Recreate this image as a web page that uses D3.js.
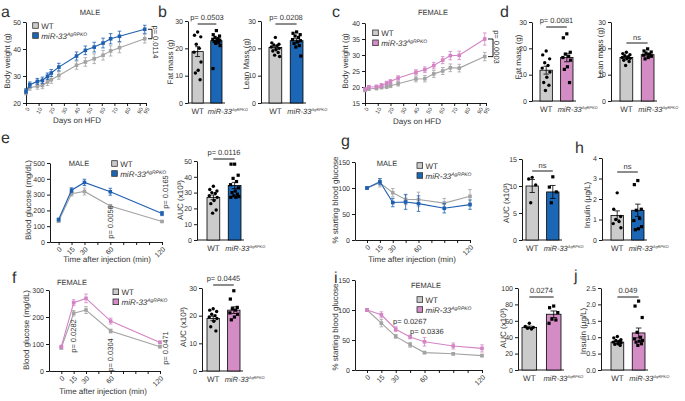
<!DOCTYPE html>
<html>
<head>
<meta charset="utf-8">
<script src="https://cdn.jsdelivr.net/npm/d3@7"></script>
<style>
  body { margin: 0; background: #fff; }
  svg { display: block; text-rendering: geometricPrecision; }
  text { font-family: 'Liberation Sans', Arial, Helvetica, sans-serif; fill: #333; }
</style>
</head>
<body>
<div id="content"></div>
<script>
// ---------- data ----------
var hfdDays = [0, 3, 9, 13, 17, 20, 26, 40, 47, 54, 61, 67, 74, 94];
var dayTicks = [0, 10, 20, 30, 40, 50, 60, 70, 80, 90, 95];
var maleWeightWT = [23.8, 25.7, 26.2, 26.5, 27.8, 28.6, 30.2, 34.0, 35.2, 36.4, 37.7, 39.3, 40.5, 43.8];
var maleWeightWTsem = [0.8, 1.0, 1.1, 1.2, 1.3, 1.3, 1.4, 1.5, 1.6, 1.8, 1.8, 1.9, 1.9, 1.6];
var maleWeightKO = [24.4, 26.8, 28.0, 28.4, 29.9, 31.1, 33.3, 37.4, 39.5, 40.7, 42.2, 43.8, 44.7, 47.3];
var maleWeightKOsem = [0.9, 1.0, 1.1, 1.2, 1.2, 1.3, 1.4, 1.5, 1.6, 1.8, 1.8, 1.9, 1.9, 1.5];
var femaleWeightWT = [19.0, 19.4, 19.6, 19.9, 20.1, 20.4, 21.0, 22.5, 22.6, 24.1, 25.0, 26.0, 25.9, 29.5];
var femaleWeightWTsem = [0.5, 0.5, 0.5, 0.5, 0.6, 0.6, 0.7, 0.9, 1.0, 1.1, 1.1, 1.2, 1.2, 1.3];
var femaleWeightKO = [19.3, 20.0, 20.1, 20.5, 21.2, 21.7, 22.8, 24.6, 25.4, 26.7, 28.4, 29.8, 29.9, 35.0];
var femaleWeightKOsem = [0.5, 0.5, 0.5, 0.6, 0.6, 0.6, 0.7, 0.8, 0.9, 1.0, 1.1, 1.3, 1.3, 1.9];

var gttTime = [0, 15, 30, 60, 120];
var timeTicks = [0, 15, 30, 45, 60, 75, 90, 105, 120];
var timeLabels = [0, 15, 30, 60, 120];
var maleGttWT = [132, 305, 320, 228, 130];
var maleGttWTsem = [8, 14, 22, 10, 6];
var maleGttKO = [142, 328, 377, 318, 180];
var maleGttKOsem = [8, 15, 20, 22, 13];
var femaleGttWT = [86, 214, 226, 148, 90];
var femaleGttWTsem = [5, 10, 13, 7, 4];
var femaleGttKO = [90, 253, 269, 185, 106];
var femaleGttKOsem = [5, 11, 16, 11, 5];

var ittTime = [0, 15, 30, 45, 60, 90, 120];
var maleIttWT = [100, 110, 91, 78, 78, 71, 84];
var maleIttWTsem = [2, 8, 8, 10, 14, 9, 13];
var maleIttKO = [100, 112, 72, 73, 70, 61, 68];
var maleIttKOsem = [2, 6, 8, 14, 15, 9, 9];
var femaleIttWT = [100, 78, 56, 42, 29, 27, 24];
var femaleIttWTsem = [2, 6, 3, 4, 2, 2, 2];
var femaleIttKO = [100, 92, 68, 55, 47, 40, 36];
var femaleIttKOsem = [2, 5, 4, 3, 7, 5, 6];

var maleFatWT = [26.0, 24.8, 24.2, 21.5, 20.0, 18.6, 15.0, 12.0, 11.0, 8.5];
var maleFatKO = [26.5, 25.0, 24.5, 24.0, 23.6, 23.3, 23.0, 22.8, 22.5, 22.2, 21.8, 21.0, 12.6];
var maleFatMean = [18.8, 22.8], maleFatSem = [1.8, 0.9];
var maleLeanWT = [24.0, 22.0, 21.5, 21.2, 21.0, 20.5, 20.0, 19.5, 19.0, 18.5, 17.5, 17.0];
var maleLeanKO = [26.0, 25.5, 25.0, 24.5, 24.0, 23.2, 22.8, 22.3, 21.8, 21.0, 20.5, 17.2];
var maleLeanMean = [20.3, 22.8], maleLeanSem = [0.6, 0.7];
var femaleFatWT = [19.0, 17.5, 16.0, 14.5, 13.5, 12.5, 11.0, 9.0, 7.0, 6.0, 4.0];
var femaleFatKO = [25.5, 24.0, 18.5, 17.8, 17.0, 16.5, 15.5, 13.0, 12.0, 7.0];
var femaleFatMean = [11.7, 16.5], femaleFatSem = [1.5, 1.6];
var femaleLeanWT = [18.5, 18.0, 17.6, 17.2, 16.8, 16.5, 16.2, 16.0, 15.5, 15.0, 13.5];
var femaleLeanKO = [19.8, 19.0, 18.6, 18.2, 17.8, 17.4, 17.0, 16.5, 16.0];
var femaleLeanMean = [16.5, 17.6], femaleLeanSem = [0.4, 0.4];
var maleGttAucWT = [34, 32, 31, 30, 29.5, 28, 27, 25, 23, 19, 17];
var maleGttAucKO = [48, 48, 41, 39, 37, 35, 33, 31, 30, 29, 28, 27.5, 27, 27];
var maleGttAucMean = [27, 34.5], maleGttAucSem = [1.5, 2.0];
var maleIttAucWT = [11.6, 11.3, 10.2, 6.9];
var maleIttAucKO = [11.7, 9.8, 8.9, 6.9];
var maleIttAucMean = [10.0, 8.9], maleIttAucSem = [1.2, 1.2];
var maleInsulinWT = [2.3, 1.5, 1.15, 1.0, 0.9, 0.8, 0.6];
var maleInsulinKO = [2.9, 2.7, 1.5, 1.45, 1.05, 0.95, 0.65, 0.55, 0.5];
var maleInsulinMean = [1.2, 1.45], maleInsulinSem = [0.22, 0.3];
var femaleGttAucWT = [22.5, 22, 21.5, 20.5, 20, 19.5, 19, 18, 16, 14.5];
var femaleGttAucKO = [29, 26, 23, 22.5, 22, 21, 20.5, 19.5, 18.5];
var femaleGttAucMean = [19.0, 22.0], femaleGttAucSem = [0.8, 1.2];
var femaleIttAucWT = [57, 53, 52, 51, 50];
var femaleIttAucKO = [78, 76, 70, 62, 61, 57];
var femaleIttAucMean = [52, 68], femaleIttAucSem = [1.5, 4];
var femaleInsulinWT = [1.02, 0.98, 0.92, 0.9, 0.88, 0.85, 0.83, 0.8, 0.78, 0.75];
var femaleInsulinKO = [2.1, 1.95, 1.6, 1.15, 1.0, 0.95, 0.9, 0.88, 0.85, 0.8, 0.75];
var femaleInsulinMean = [0.85, 1.13], femaleInsulinSem = [0.04, 0.15];

// ---------- style ----------
var GRAY = '#cbcbcb', GRAY_LINE = '#a3a3a3';
var BLUE = '#1c67b5', BLUE_LINE = '#1f5fb0';
var PINK = '#d48cc5', PINK_LINE = '#d384c5';
var TITLE = 8, TICK = 7, PFONT = 7.5;
var jitter = [0, -0.28, 0.28, -0.12, 0.15, -0.32, 0.3, 0.05, -0.2, 0.22, -0.06, 0.33, -0.3, 0.1];

var svg = d3.select('#content').append('svg')
  .attr('width', 685)
  .attr('height', 401);

function label(x, y, s, size, opts) {
  opts = opts || {};
  var t = svg.append('text')
    .attr('x', x).attr('y', y)
    .attr('font-size', size)
    .attr('text-anchor', opts.anchor || 'start')
    .text(s);
  if (opts.rotate) {
    t.attr('transform', 'rotate(' + opts.rotate + ',' + x + ',' + y + ')').attr('dy', '0.35em');
  }
  return t;
}

function koText(t, size, sup) {
  t.append('tspan').attr('font-style', 'italic').text('miR-33');
  t.append('tspan').attr('font-style', 'italic').attr('font-size', size * (sup || 0.62))
    .attr('dy', -size * 0.38).text('AgRPKO');
}

function styleAxis(g, fs) {
  g.select('.domain').attr('stroke', '#000').attr('stroke-width', 0.9);
  g.selectAll('.tick line').attr('stroke', '#000').attr('stroke-width', 0.9);
  g.selectAll('.tick text').attr('font-size', fs).attr('fill', '#333');
}

function legend(x, y, koColor) {
  var rows = [{c: GRAY, ko: false}, {c: koColor, ko: true}];
  rows.forEach(function(r, i) {
    svg.append('rect')
      .attr('x', x).attr('y', y + i * 10)
      .attr('width', 5.6).attr('height', 5.6)
      .attr('fill', r.c).attr('stroke', '#333').attr('stroke-width', 0.8);
    var t = svg.append('text').attr('x', x + 8.5).attr('y', y + i * 10 + 6).attr('font-size', TITLE);
    if (r.ko) koText(t, TITLE); else t.text('WT');
  });
}

function linePanel(c) {
  var g = svg.append('g');
  var x = d3.scaleLinear().domain(c.xDomain).range(c.xRange);
  var y = d3.scaleLinear().domain(c.yDomain).range(c.yRange);
  var ya = g.append('g')
    .attr('transform', 'translate(' + c.xRange[0] + ',0)')
    .call(d3.axisLeft(y).tickValues(c.yTicks).tickSize(3).tickSizeOuter(0).tickPadding(2));
  styleAxis(ya, TICK);
  var xa = g.append('g')
    .attr('transform', 'translate(0,' + c.yRange[0] + ')')
    .call(d3.axisBottom(x).tickValues(c.xTicks).tickSize(3).tickSizeOuter(0)
      .tickFormat(function(d) { return c.xLabels.indexOf(d) >= 0 ? d : ''; }));
  styleAxis(xa, c.tickFont || TICK);
  xa.selectAll('.tick text')
    .attr('y', 0).attr('dy', '0.35em')
    .attr('text-anchor', 'end')
    .attr('transform', 'translate(1.5,' + (c.labOff || 6) + ') rotate(' + c.rot + ')');

  var line = d3.line()
    .x(function(d) { return x(d[0]); })
    .y(function(d) { return y(d[1]); });

  c.series.forEach(function(s) {
    var pts = s.t.map(function(t, i) { return [t, s.m[i], s.e[i]]; });
    g.append('path').datum(pts)
      .attr('d', line)
      .attr('fill', 'none')
      .attr('stroke', s.color)
      .attr('stroke-width', 1.1);
    var eb = g.append('g').attr('stroke', s.color).attr('stroke-width', 0.8);
    eb.selectAll('line.v').data(pts).enter().append('line')
      .attr('x1', function(d) { return x(d[0]); })
      .attr('x2', function(d) { return x(d[0]); })
      .attr('y1', function(d) { return y(d[1] - d[2]); })
      .attr('y2', function(d) { return y(d[1] + d[2]); });
    [-1, 1].forEach(function(sign) {
      eb.selectAll(null).data(pts).enter().append('line')
        .attr('x1', function(d) { return x(d[0]) - 1.8; })
        .attr('x2', function(d) { return x(d[0]) + 1.8; })
        .attr('y1', function(d) { return y(d[1] + sign * d[2]); })
        .attr('y2', function(d) { return y(d[1] + sign * d[2]); });
    });
    g.selectAll(null).data(pts).enter().append('rect')
      .attr('x', function(d) { return x(d[0]) - 1.8; })
      .attr('y', function(d) { return y(d[1]) - 1.8; })
      .attr('width', 3.6).attr('height', 3.6)
      .attr('fill', s.color);
  });

  if (c.bracket) {
    var b = c.bracket;
    var ya1 = y(b.top), ya2 = y(b.bottom);
    g.append('path')
      .attr('d', 'M' + b.x0 + ',' + ya1 + 'H' + b.x1 + 'V' + ya2 + 'H' + b.x0)
      .attr('fill', 'none').attr('stroke', '#000').attr('stroke-width', 0.9);
    label(b.x1 + 3.5, b.textY, b.text, PFONT, {anchor: 'middle', rotate: 90});
  }
  return {x: x, y: y};
}

function barPanel(c) {
  var g = svg.append('g');
  var y = d3.scaleLinear().domain(c.yDomain).range(c.yRange);
  var x = d3.scaleBand().domain([0, 1]).range(c.band).paddingInner(0.4).paddingOuter(0);
  var bw = x.bandwidth();
  var ya = g.append('g')
    .attr('transform', 'translate(' + c.axisX + ',0)')
    .call(d3.axisLeft(y).tickValues(c.yTicks).tickSize(3).tickSizeOuter(0).tickPadding(2)
      .tickFormat(c.fmt || d3.format('d')));
  styleAxis(ya, TICK);
  g.append('line')
    .attr('x1', c.axisX).attr('x2', c.band[1] + 3)
    .attr('y1', y(0)).attr('y2', y(0))
    .attr('stroke', '#000').attr('stroke-width', 0.9);

  [0, 1].forEach(function(i) {
    var cx = x(i) + bw / 2;
    g.append('rect')
      .attr('x', x(i)).attr('y', y(c.mean[i]))
      .attr('width', bw).attr('height', y(0) - y(c.mean[i]))
      .attr('fill', i === 0 ? GRAY : c.color)
      .attr('stroke', '#000').attr('stroke-width', 0.8);
    var sorted = c.pts[i].slice().sort(d3.descending);
    sorted.forEach(function(v, k) {
      var px = cx + jitter[k % jitter.length] * bw;
      if (i === 0) {
        g.append('circle').attr('cx', px).attr('cy', y(v)).attr('r', 1.7).attr('fill', '#000');
      } else {
        g.append('rect').attr('x', px - 1.6).attr('y', y(v) - 1.6)
          .attr('width', 3.2).attr('height', 3.2).attr('fill', '#000');
      }
    });
    var lo = y(c.mean[i] - c.sem[i]), hi = y(c.mean[i] + c.sem[i]);
    var eb = g.append('g').attr('stroke', '#000').attr('stroke-width', 0.8);
    eb.append('line').attr('x1', cx).attr('x2', cx).attr('y1', lo).attr('y2', hi);
    eb.append('line').attr('x1', cx - bw * 0.22).attr('x2', cx + bw * 0.22).attr('y1', lo).attr('y2', lo);
    eb.append('line').attr('x1', cx - bw * 0.22).attr('x2', cx + bw * 0.22).attr('y1', hi).attr('y2', hi);
  });

  var c0 = x(0) + bw / 2, c1 = x(1) + bw / 2;
  var ly = y(0) + 10.5;
  label(c0, ly, 'WT', 8, {anchor: 'middle'});
  var kt = svg.append('text').attr('x', x(1) - 3).attr('y', ly).attr('font-size', 7.5);
  koText(kt, 7.5, 0.52);

  g.append('line')
    .attr('x1', c0).attr('x2', c1)
    .attr('y1', c.pLineY).attr('y2', c.pLineY)
    .attr('stroke', '#000').attr('stroke-width', 0.9);
  label((c0 + c1) / 2, c.pLineY - (c.pGap || 4.5), c.p, PFONT, {anchor: 'middle'});
  label(c.ylabX, c.ylabY, c.ylab, TITLE, {anchor: 'middle', rotate: -90});
}

// ---------- panel letters ----------
[['a', 1, 17], ['b', 158, 17], ['c', 332, 17], ['d', 500, 17],
 ['e', 1, 143], ['g', 341, 146], ['h', 575, 153],
 ['f', 12, 283], ['i', 334, 283], ['j', 574, 281]].forEach(function(p) {
  label(p[1], p[2], p[0], 16);
});

// ---------- a: male body weight ----------
linePanel({
  xDomain: [0, 95], xRange: [26, 146], yDomain: [20, 50], yRange: [103, 22],
  yTicks: [20, 30, 40, 50], xTicks: dayTicks, xLabels: dayTicks, rot: -60, tickFont: 5.5, labOff: 5,
  series: [
    {t: hfdDays, m: maleWeightWT, e: maleWeightWTsem, color: GRAY_LINE},
    {t: hfdDays, m: maleWeightKO, e: maleWeightKOsem, color: BLUE_LINE}
  ],
  bracket: {x0: 148, x1: 152, top: 47.3, bottom: 43.8, text: 'p= 0.0114', textY: 42}
});
label(90, 15, 'MALE', PFONT, {anchor: 'middle'});
legend(32.7, 22.7, BLUE);
label(7, 61, 'Body weight (g)', TITLE, {anchor: 'middle', rotate: -90});
label(77, 123, 'Days on HFD', TITLE, {anchor: 'middle'});

// ---------- c: female body weight ----------
linePanel({
  xDomain: [0, 95], xRange: [365, 486], yDomain: [15, 40], yRange: [103, 23],
  yTicks: [15, 20, 25, 30, 35, 40], xTicks: dayTicks, xLabels: dayTicks, rot: -60, tickFont: 5.5, labOff: 5,
  series: [
    {t: hfdDays, m: femaleWeightWT, e: femaleWeightWTsem, color: GRAY_LINE},
    {t: hfdDays, m: femaleWeightKO, e: femaleWeightKOsem, color: PINK_LINE}
  ],
  bracket: {x0: 488, x1: 493, top: 35.0, bottom: 29.5, text: 'p= 0.0003', textY: 47}
});
label(433, 15, 'FEMALE', PFONT, {anchor: 'middle'});
legend(372.7, 30, PINK);
label(345, 61, 'Body weight (g)', TITLE, {anchor: 'middle', rotate: -90});
label(417, 124, 'Days on HFD', TITLE, {anchor: 'middle'});

// ---------- b, d: body composition ----------
barPanel({axisX: 188, band: [192, 222], yDomain: [0, 30], yRange: [103, 21], yTicks: [0, 10, 20, 30],
  mean: maleFatMean, sem: maleFatSem, pts: [maleFatWT, maleFatKO], color: BLUE,
  p: 'p= 0.0503', pLineY: 24, ylab: 'Fat mass (g)', ylabX: 170, ylabY: 62});
barPanel({axisX: 261, band: [269, 303], yDomain: [0, 30], yRange: [103, 21], yTicks: [0, 10, 20, 30],
  mean: maleLeanMean, sem: maleLeanSem, pts: [maleLeanWT, maleLeanKO], color: BLUE,
  p: 'p= 0.0208', pLineY: 24, ylab: 'Lean Mass (g)', ylabX: 246, ylabY: 64});
barPanel({axisX: 532, band: [540, 573], yDomain: [0, 30], yRange: [101, 22], yTicks: [0, 10, 20, 30],
  mean: femaleFatMean, sem: femaleFatSem, pts: [femaleFatWT, femaleFatKO], color: PINK,
  p: 'p= 0.0081', pLineY: 27, ylab: 'Fat mass (g)', ylabX: 518, ylabY: 57});
barPanel({axisX: 611, band: [620, 654], yDomain: [0, 30], yRange: [101, 22], yTicks: [0, 10, 20, 30],
  mean: femaleLeanMean, sem: femaleLeanSem, pts: [femaleLeanWT, femaleLeanKO], color: PINK,
  p: 'ns', pLineY: 43, pGap: 3, ylab: 'Lean mass (g)', ylabX: 600, ylabY: 53});

// ---------- e: male GTT ----------
var e = linePanel({
  xDomain: [-10, 120], xRange: [50, 162], yDomain: [0, 500], yRange: [242, 163],
  yTicks: [0, 100, 200, 300, 400, 500], xTicks: timeTicks, xLabels: timeLabels, rot: -45,
  series: [
    {t: gttTime, m: maleGttWT, e: maleGttWTsem, color: GRAY_LINE},
    {t: gttTime, m: maleGttKO, e: maleGttKOsem, color: BLUE_LINE}
  ]
});
label(79, 166, 'MALE', PFONT, {anchor: 'middle'});
legend(111.7, 160.7, BLUE);
label(28, 200, 'Blood glucose (mg/dL)', TITLE, {anchor: 'middle', rotate: -90});
label(107, 262, 'Time after injection (min)', TITLE, {anchor: 'middle'});
label(e.x(60), 222, 'p= 0.0056', PFONT, {anchor: 'middle', rotate: -90});
label(e.x(120) + 3, 192, 'p= 0.0165', PFONT, {anchor: 'middle', rotate: -90});

barPanel({axisX: 197, band: [207, 241], yDomain: [0, 50], yRange: [240, 161], yTicks: [0, 10, 20, 30, 40, 50],
  mean: maleGttAucMean, sem: maleGttAucSem, pts: [maleGttAucWT, maleGttAucKO], color: BLUE,
  p: 'p= 0.0116', pLineY: 159, ylab: 'AUC (x10\u00B3)', ylabX: 180, ylabY: 200});

// ---------- g: male ITT ----------
linePanel({
  xDomain: [-14, 120], xRange: [355, 470], yDomain: [0, 150], yRange: [240, 162],
  yTicks: [0, 50, 100, 150], xTicks: timeTicks, xLabels: timeLabels, rot: -45,
  series: [
    {t: ittTime, m: maleIttWT, e: maleIttWTsem, color: GRAY_LINE},
    {t: ittTime, m: maleIttKO, e: maleIttKOsem, color: BLUE_LINE}
  ]
});
label(387, 166, 'MALE', PFONT, {anchor: 'middle'});
legend(417, 162.7, BLUE);
label(335, 200, '% starting blood glucose', TITLE, {anchor: 'middle', rotate: -90});
label(412, 262, 'Time after injection (min)', TITLE, {anchor: 'middle'});

barPanel({axisX: 522, band: [526, 559], yDomain: [0, 15], yRange: [240, 159], yTicks: [0, 5, 10, 15],
  mean: maleIttAucMean, sem: maleIttAucSem, pts: [maleIttAucWT, maleIttAucKO], color: BLUE,
  p: 'ns', pLineY: 171, pGap: 3, ylab: 'AUC (x10\u00B3)', ylabX: 506, ylabY: 203});

// ---------- h: male insulin ----------
barPanel({axisX: 602, band: [611, 644], yDomain: [0, 4], yRange: [240, 158], yTicks: [0, 1, 2, 3, 4],
  mean: maleInsulinMean, sem: maleInsulinSem, pts: [maleInsulinWT, maleInsulinKO], color: BLUE,
  p: 'ns', pLineY: 172, pGap: 3, ylab: 'Insulin (\u00B5g/L)', ylabX: 587, ylabY: 205});

// ---------- f: female GTT ----------
var f = linePanel({
  xDomain: [-15, 120], xRange: [49, 160], yDomain: [0, 300], yRange: [371, 290],
  yTicks: [0, 100, 200, 300], xTicks: timeTicks, xLabels: timeLabels, rot: -45,
  series: [
    {t: gttTime, m: femaleGttWT, e: femaleGttWTsem, color: GRAY_LINE},
    {t: gttTime, m: femaleGttKO, e: femaleGttKOsem, color: PINK_LINE}
  ]
});
label(72, 285, 'FEMALE', PFONT, {anchor: 'middle'});
legend(113, 289, PINK);
label(26, 330, 'Blood glucose (mg/dL)', TITLE, {anchor: 'middle', rotate: -90});
label(103, 394, 'Time after injection (min)', TITLE, {anchor: 'middle'});
label(f.x(15), 336, 'p= 0.0282', PFONT, {anchor: 'middle', rotate: -90});
label(f.x(60), 355, 'p= 0.0304', PFONT, {anchor: 'middle', rotate: -90});
label(f.x(120) + 5, 348, 'p= 0.0471', PFONT, {anchor: 'middle', rotate: -90});

barPanel({axisX: 202, band: [207, 240], yDomain: [0, 30], yRange: [371, 288], yTicks: [0, 10, 20, 30],
  mean: femaleGttAucMean, sem: femaleGttAucSem, pts: [femaleGttAucWT, femaleGttAucKO], color: PINK,
  p: 'p= 0.0445', pLineY: 285, ylab: 'AUC (x10\u00B3)', ylabX: 183, ylabY: 327});

// ---------- i: female ITT ----------
linePanel({
  xDomain: [-12.5, 120], xRange: [355, 482], yDomain: [0, 150], yRange: [370, 280],
  yTicks: [0, 50, 100, 150], xTicks: timeTicks, xLabels: timeLabels, rot: -45,
  series: [
    {t: ittTime, m: femaleIttWT, e: femaleIttWTsem, color: GRAY_LINE},
    {t: ittTime, m: femaleIttKO, e: femaleIttKOsem, color: PINK_LINE}
  ]
});
label(426, 288, 'FEMALE', PFONT, {anchor: 'middle'});
legend(417, 296.7, PINK);
label(335, 327, '% starting blood glucose', TITLE, {anchor: 'middle', rotate: -90});
label(393, 324, 'p= 0.0267', PFONT);
label(410, 334, 'p= 0.0336', PFONT);

barPanel({axisX: 518, band: [522, 561], yDomain: [0, 100], yRange: [370, 288], yTicks: [0, 20, 40, 60, 80, 100],
  mean: femaleIttAucMean, sem: femaleIttAucSem, pts: [femaleIttAucWT, femaleIttAucKO], color: PINK,
  p: '0.0274', pLineY: 297, ylab: 'AUC (x10\u00B3)', ylabX: 503, ylabY: 328});

// ---------- j: female insulin ----------
barPanel({axisX: 601, band: [611, 645], yDomain: [0, 2.5], yRange: [370, 288], yTicks: [0, 0.5, 1, 1.5, 2, 2.5],
  fmt: d3.format('.1f'),
  mean: femaleInsulinMean, sem: femaleInsulinSem, pts: [femaleInsulinWT, femaleInsulinKO], color: PINK,
  p: '0.049', pLineY: 297, ylab: 'Insulin (\u00B5g/L)', ylabX: 583, ylabY: 331});
</script>
</body>
</html>
